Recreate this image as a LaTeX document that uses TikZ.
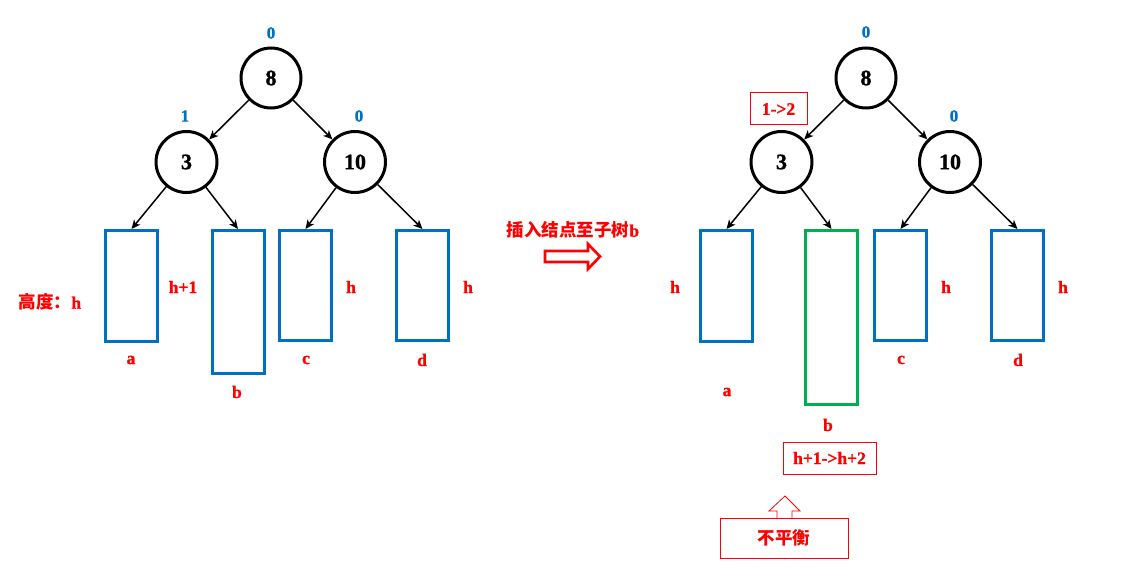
\documentclass[tikz,border=0pt]{standalone}
\usepackage{fontspec}
\setmainfont{Liberation Serif}[BoldFeatures={FakeBold=1.2}]
\newfontfamily\cjk{Noto Sans CJK SC}
\usetikzlibrary{arrows.meta}
\definecolor{myblue}{HTML}{0070C0}
\definecolor{myred}{HTML}{FF0000}
\definecolor{mygreen}{HTML}{00B050}
\begin{document}
\begin{tikzpicture}[x=1pt,y=-1pt,
  tnode/.style={circle,draw=black,line width=3pt,minimum size=60pt,inner sep=0pt,font=\fontsize{22}{22}\selectfont\bfseries},
  sub/.style={draw=myblue,line width=3pt,minimum width=52pt,inner sep=0pt},
  bal/.style={text=myblue,font=\fontsize{17}{17}\selectfont\bfseries},
  lab/.style={text=myred,font=\fontsize{17.5}{17.5}\selectfont\bfseries},
  cjklab/.style={text=myred,font=\fontsize{17.5}{17.5}\selectfont\bfseries},
  edge/.style={line width=1.5pt,-{Stealth[length=9pt,width=8pt,inset=2.5pt]}},
  rbox/.style={draw=myred,line width=1pt,inner sep=0pt}
]
\useasboundingbox (0,0) rectangle (1135,588);
% ---------- left tree
\node[tnode] (L8) at (271,78) {8};
\node[tnode,minimum size=61pt] (L3) at (186.5,162) {3};
\node[tnode,minimum size=61pt] (L10) at (355,162) {10};
\node[bal] (L8b) at (271,33) {0};
\node[bal] (L3b) at (185,116) {1};
\node[bal] (L10b) at (359,116) {0};
\node[sub,minimum height=111pt] (La) at (131.5,286) {};
\node[sub,minimum height=143pt] (Lb) at (238,302) {};
\node[sub,minimum height=110pt] (Lc) at (305.5,285.5) {};
\node[sub,minimum height=110pt] (Ld) at (422.5,285.5) {};
\draw[edge] (L8) -- (L3);
\draw[edge] (L8) -- (L10);
\draw[edge] (L3) -- (La.north);
\draw[edge] (L3) -- (Lb.north);
\draw[edge] (L10) -- (Lc.north);
\draw[edge] (L10) -- (Ld.north);
\node[lab] (Lal) at (131,360) {a};
\node[lab] (Lbl) at (237,392) {b};
\node[lab] (Lcl) at (306,360) {c};
\node[lab] (Ldl) at (422,360) {d};
\node[lab] (Lh1) at (183,287) {h+1};
\node[lab] (Lh2) at (351,287) {h};
\node[lab] (Lh3) at (468,287) {h};
\node[cjklab] (Lht) at (50,302) {{\cjk 高度：}h};
% ---------- middle
\node[cjklab] (mid) at (573,230) {{\cjk 插入结点至子树}b};
\draw[myred,line width=2.6pt,line join=miter] (545,251) -- (588,251) -- (588,244) -- (600,256.5) -- (588,269) -- (588,262) -- (545,262) -- cycle;
% ---------- right tree
\node[tnode] (R8) at (866,78) {8};
\node[tnode,minimum size=61pt] (R3) at (781.5,162) {3};
\node[tnode,minimum size=61pt] (R10) at (950,162) {10};
\node[bal] (R8b) at (866,32) {0};
\node[bal] (R10b) at (954,116) {0};
\node[sub,minimum height=111pt] (Ra) at (726.5,286) {};
\node[sub,draw=mygreen,minimum height=174pt] (Rb) at (831.5,317.5) {};
\node[sub,minimum height=110pt] (Rc) at (900.5,285.5) {};
\node[sub,minimum height=110pt] (Rd) at (1017.5,285.5) {};
\draw[edge] (R8) -- (R3);
\draw[edge] (R8) -- (R10);
\draw[edge] (R3) -- (Ra.north);
\draw[edge] (R3) -- (Rb.north);
\draw[edge] (R10) -- (Rc.north);
\draw[edge] (R10) -- (Rd.north);
\node[lab] (Ral) at (727,392) {a};
\node[lab] (Rbl) at (828,425) {b};
\node[lab] (Rcl) at (901,360) {c};
\node[lab] (Rdl) at (1018,360) {d};
\node[lab] (Rh1) at (675,287) {h};
\node[lab] (Rh2) at (946,287) {h};
\node[lab] (Rh3) at (1063,287) {h};
\node[rbox,lab,minimum width=57pt,minimum height=32pt] (R12) at (778.5,109) {1->2};
\node[rbox,lab,minimum width=93pt,minimum height=32pt] (Rhh) at (829.5,458) {h+1->h+2};
\node[rbox,cjklab,minimum width=128pt,minimum height=40pt] (Rub) at (784,538) {{\cjk 不平衡}};
\draw[myred,line width=0.8pt] (777,518) -- (777,511) -- (769,511) -- (785,496) -- (800,511) -- (792,511) -- (792,518);
\end{tikzpicture}
\end{document}
